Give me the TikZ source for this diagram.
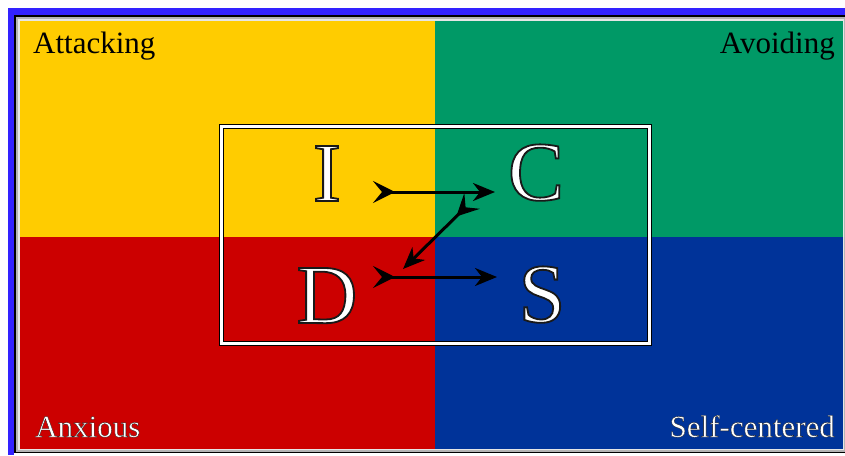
\documentclass[tikz,border=0pt]{standalone}
\usepackage{fontspec}
\setmainfont{Liberation Serif}
\usetikzlibrary{arrows.meta,calc}
\definecolor{qyellow}{HTML}{FFCC00}
\definecolor{qgreen}{HTML}{009966}
\definecolor{qred}{HTML}{CC0000}
\definecolor{qblue}{HTML}{003399}
\definecolor{frameblue}{HTML}{3322FF}
\definecolor{bevelgray}{HTML}{B4B4B4}
\definecolor{bevellight}{HTML}{E6E6E6}
% white text with a dark outline (PDF text render mode 2: fill, then stroke)
\newcommand{\outlined}[2]{{\special{pdf:literal direct 0.1 G #1 w 2 Tr}#2\special{pdf:literal direct 0 Tr}}}
\tikzset{
  letter/.style={anchor=base, text=white, inner sep=0pt, font=\fontsize{84}{84}\selectfont},
  cornerlabel/.style={inner sep=0pt, font=\fontsize{31}{31}\selectfont},
  flow/.style={line width=3pt, black,
    {Stealth[reversed,length=22pt,width=22pt,inset=9pt]}-{Stealth[length=22pt,width=18pt,inset=7pt]}},
  innerframe/.style={draw=black, line width=1.1pt, double=white, double distance=2.2pt}
}
\begin{document}
\begin{tikzpicture}[x=1pt,y=-1pt]
\useasboundingbox (0,0) rectangle (845,455);
\fill[white] (0,0) rectangle (845,455);
% blue frame (top and left)
\fill[frameblue] (8,8) rectangle (845,15);
\fill[frameblue] (8,8) rectangle (14,455);
% black edge
\fill[black] (14,15) rectangle (845,453);
% bevel
\fill[bevelgray] (16,17) rectangle (845,452);
\fill[bevellight] (18,19) rectangle (844,450);
% quadrants
\fill[qyellow] (20,21) rectangle (435,237);
\fill[qgreen] (435,21) rectangle (843,237);
\fill[qred] (20,237) rectangle (435,449);
\fill[qblue] (435,237) rectangle (843,449);
% corner labels
\node[cornerlabel, anchor=base west, text=black] (att) at (33,53) {Attacking};
\node[cornerlabel, anchor=base east, text=black] (avo) at (835,53) {Avoiding};
\node[cornerlabel, anchor=base west, text=white] (anx) at (35,437) {\outlined{0.3}{Anxious}};
\node[cornerlabel, anchor=base east, text=white] (self) at (835,437) {\outlined{0.3}{Self-centered}};
% inner frame
\draw[innerframe] (221.5,126.5) rectangle (649.5,343.5);
% letters
\node[letter] (I) at (327,201) {\outlined{1.8}{I}};
\node[letter] (C) at (536,200) {\outlined{1.8}{C}};
\node[letter] (D) at (327,323) {\outlined{1.8}{D}};
\node[letter] (S) at (542,322) {\outlined{1.8}{S}};
% arrows
\draw[flow] ($(I.base)+(46,-9)$) -- ($(C.base)+(-41,-8)$);
\draw[flow] ($(C.base)+(-64,1)$) -- ($(D.base)+(76,-54)$);
\draw[flow] ($(D.base)+(46,-46)$) -- ($(S.base)+(-45,-45)$);
\end{tikzpicture}
\end{document}
